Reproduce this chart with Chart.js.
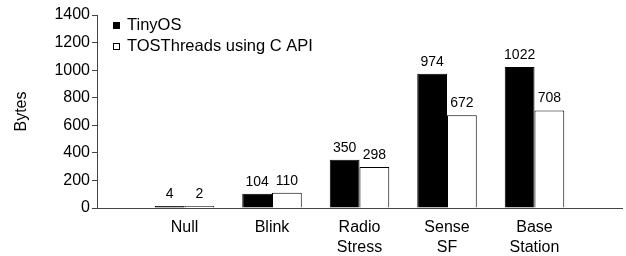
<!DOCTYPE html>
<html>
<head>
<meta charset="utf-8">
<script src="https://cdn.jsdelivr.net/npm/chart.js@4.4.1/dist/chart.umd.min.js"></script>
<style>
  html, body { margin: 0; padding: 0; background: #fff; }
  #wrap { width: 626px; height: 256px; position: relative; }
</style>
</head>
<body>
<div id="wrap"><canvas id="chart"></canvas></div>
<script>
// blank slots at both ends leave the gaps seen around the groups
const categories = ['', 'Null', 'Blink', ['Radio', 'Stress'], ['Sense', 'SF'], ['Base', 'Station'], ''];
const tinyOS = [null, 4, 104, 350, 974, 1022, null];
const tosThreads = [null, 2, 110, 298, 672, 708, null];
const yTicks = [0, 200, 400, 600, 800, 1000, 1200, 1400];

const FONT = '"Liberation Sans", Arial, Helvetica, sans-serif';

const valueLabels = {
    id: 'valueLabels',
    afterDatasetsDraw(chart) {
        const ctx = chart.ctx;
        ctx.save();
        ctx.font = '14px ' + FONT;
        ctx.fillStyle = '#000';
        ctx.textAlign = 'center';
        ctx.textBaseline = 'bottom';
        chart.data.datasets.forEach((ds, i) => {
            chart.getDatasetMeta(i).data.forEach((bar, j) => {
                const v = ds.data[j];
                if (v === null) return;
                ctx.fillText(String(v), bar.x, bar.y - 5);
            });
        });
        ctx.restore();
    }
};

const boxLegend = {
    id: 'boxLegend',
    afterDraw(chart) {
        const ctx = chart.ctx;
        const x = chart.chartArea.left + 16;
        let y = chart.chartArea.top + 10;
        ctx.save();
        ctx.font = '16.5px ' + FONT;
        ctx.textBaseline = 'middle';
        chart.data.datasets.forEach(ds => {
            ctx.fillStyle = ds.backgroundColor;
            ctx.fillRect(x, y - 3, 7, 7);
            ctx.strokeStyle = '#000';
            ctx.lineWidth = 1;
            ctx.strokeRect(x + 0.5, y - 2.5, 6, 6);
            ctx.fillStyle = '#000';
            ctx.fillText(ds.label, x + 14, y);
            y += 21;
        });
        ctx.restore();
    }
};

new Chart(document.getElementById('chart'), {
    type: 'bar',
    data: {
        labels: categories,
        datasets: [
            { label: 'TinyOS', data: tinyOS, backgroundColor: '#000', borderColor: '#000', borderWidth: 1 },
            { label: 'TOSThreads using C API', data: tosThreads, backgroundColor: '#fff', borderColor: '#000', borderWidth: 1 }
        ]
    },
    options: {
        responsive: true,
        maintainAspectRatio: false,
        animation: false,
        layout: { padding: { top: 15, right: 4, left: 0, bottom: 0 } },
        datasets: { bar: { categoryPercentage: 0.68, barPercentage: 1.0, minBarLength: 2 } },
        plugins: { legend: { display: false }, tooltip: { enabled: false } },
        scales: {
            x: {
                offset: false,
                grid: { display: false, drawTicks: false },
                border: { display: true, color: '#444', width: 1 },
                ticks: { color: '#000', font: { family: FONT, size: 16, lineHeight: 1.25 }, padding: 10, maxRotation: 0, autoSkip: false },
                afterFit(scale) {
                    scale.height = 48;
                    scale.paddingLeft = 0;
                    scale.paddingRight = 0;
                }
            },
            y: {
                min: 0,
                max: 1400,
                afterBuildTicks(scale) { scale.ticks = yTicks.map(v => ({ value: v })); },
                grid: { display: true, drawOnChartArea: false, drawTicks: true, tickLength: 5, color: '#444' },
                border: { display: true, color: '#444', width: 1 },
                ticks: { color: '#000', font: { family: FONT, size: 16 }, padding: 2, callback: v => String(v) },
                title: { display: true, text: 'Bytes', color: '#000', font: { family: FONT, size: 16 }, padding: { top: 12, bottom: 0 } },
                afterFit(scale) { scale.width = 97; }
            }
        }
    },
    plugins: [valueLabels, boxLegend]
});
</script>
</body>
</html>
